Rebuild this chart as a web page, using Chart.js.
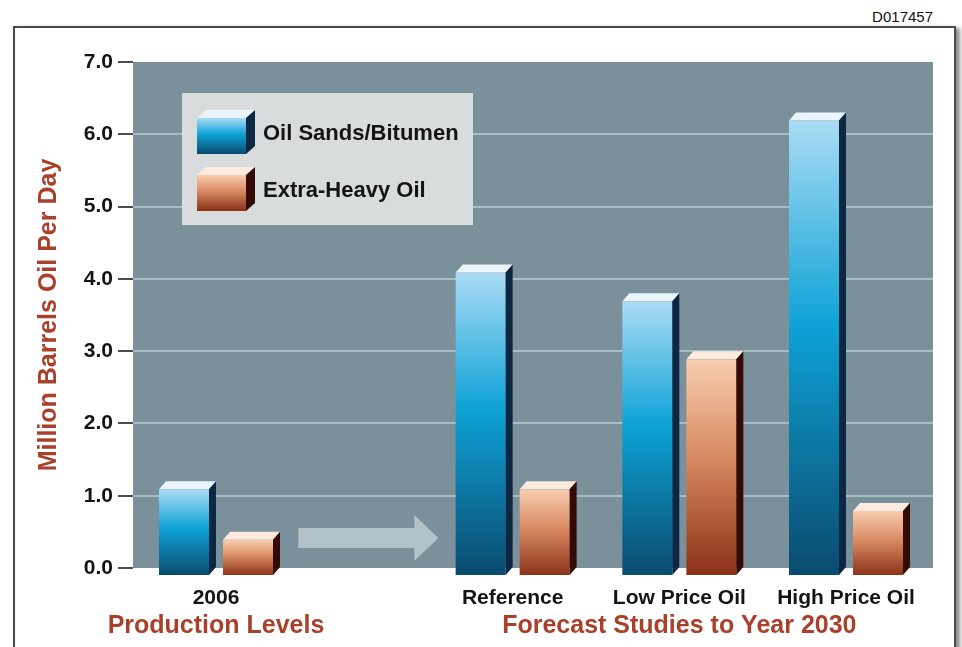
<!DOCTYPE html>
<html>
<head>
<meta charset="utf-8">
<script src="https://cdn.jsdelivr.net/npm/chart.js@4.4.1/dist/chart.umd.min.js"></script>
<style>
  html, body { margin: 0; padding: 0; background: #fff; }
  #wrap { position: relative; width: 962px; height: 647px; overflow: hidden; }
  #frame {
    position: absolute; left: 13px; top: 26px; width: 943px; height: 700px;
    box-sizing: border-box; border: 2px solid #4a4a4a;
    box-shadow: 4px 2px 4px rgba(0, 0, 0, 0.45);
  }
  #code {
    position: absolute; right: 29px; top: 8px;
    font: 15px 'Liberation Sans', Arial, sans-serif; color: #111;
  }
  canvas { position: absolute; left: 0; top: 0; }
</style>
</head>
<body>
<div id="wrap">
  <div id="frame"></div>
  <div id="code">D017457</div>
  <canvas id="chart" width="962" height="647"></canvas>
</div>
<script>
const categories = ['2006', 'Reference', 'Low Price Oil', 'High Price Oil'];
const seriesNames = ['Oil Sands/Bitumen', 'Extra-Heavy Oil'];
const oilSands = [1.2, 4.2, 3.8, 6.3];
const extraHeavy = [0.5, 1.2, 3.0, 0.9];
const yTicks = [0, 1, 2, 3, 4, 5, 6, 7];
const groupTitles = ['Production Levels', 'Forecast Studies to Year 2030'];

// where the groups sit on the x axis (2006 is set apart from the forecasts)
const slotX = [1.22, 3, 4, 5];

const FONT = "'Liberation Sans', Arial, sans-serif";
const RED = '#a9402b';
const DX = 7, DY = 8;   // depth of the 3d blocks
const GAP = 7;          // transparent side border -> gap between the pair

const palettes = [
  { front: [[0, '#aadcf5'], [0.45, '#0ea2d6'], [1, '#0a4a6e']], top: '#eaf5fb', side: '#0c2742' },
  { front: [[0, '#f8cdb0'], [0.45, '#d88a62'], [1, '#8a3017']], top: '#fdeadf', side: '#330a04' }
];

function gradient(ctx, top, bot, stops) {
  const g = ctx.createLinearGradient(0, top, 0, bot);
  stops.forEach(s => g.addColorStop(s[0], s[1]));
  return g;
}

function faceFill(c, stops) {
  const chart = c.chart;
  const ys = chart.scales.y;
  if (c.type !== 'data' || !ys || !c.raw) return stops[1][1];
  const top = ys.getPixelForValue(c.raw.y);
  const bot = ys.getPixelForValue(0);
  if (!isFinite(top) || !isFinite(bot) || top === bot) return stops[1][1];
  return gradient(chart.ctx, top, bot, stops);
}

// top and side faces of a block whose front face is given
function drawFaces(ctx, fl, fr, ft, fb, dx, dy, pal) {
  ctx.fillStyle = pal.top;
  ctx.beginPath();
  ctx.moveTo(fl, ft);
  ctx.lineTo(fr, ft);
  ctx.lineTo(fr + dx, ft - dy);
  ctx.lineTo(fl + dx, ft - dy);
  ctx.closePath();
  ctx.fill();
  ctx.fillStyle = pal.side;
  ctx.beginPath();
  ctx.moveTo(fr, ft);
  ctx.lineTo(fr + dx, ft - dy);
  ctx.lineTo(fr + dx, fb - dy);
  ctx.lineTo(fr, fb);
  ctx.closePath();
  ctx.fill();
}

const depthPlugin = {
  id: 'depth',
  beforeDraw(chart) {
    const { ctx, chartArea: a } = chart;
    ctx.save();
    ctx.fillStyle = '#7a919c';
    ctx.fillRect(a.left, a.top, a.width, a.height);
    ctx.restore();
  },
  beforeDatasetsDraw(chart) {
    chart.ctx.save();
    chart.ctx.translate(-DX, DY);
  },
  afterDatasetsDraw(chart) {
    const { ctx, chartArea: a } = chart;
    const xs = chart.scales.x;
    ctx.restore();
    ctx.save();

    // block tops and sides
    chart.data.datasets.forEach((ds, di) => {
      chart.getDatasetMeta(di).data.forEach(bar => {
        const p = bar.getProps(['x', 'y', 'base', 'width'], true);
        const l = p.x - p.width / 2 + GAP - DX;
        const r = p.x + p.width / 2 - GAP - DX;
        drawFaces(ctx, l, r, p.y + DY, p.base + DY, DX, DY, palettes[di]);
      });
    });

    // arrow between the 2006 group and the forecasts
    const cx = (xs.getPixelForValue(slotX[0]) + xs.getPixelForValue(slotX[1])) / 2 - 3;
    const cy = a.bottom - 30;
    ctx.fillStyle = 'rgba(214, 226, 231, 0.6)';
    ctx.beginPath();
    ctx.moveTo(cx - 70, cy - 10);
    ctx.lineTo(cx + 46, cy - 10);
    ctx.lineTo(cx + 46, cy - 23);
    ctx.lineTo(cx + 70, cy);
    ctx.lineTo(cx + 46, cy + 23);
    ctx.lineTo(cx + 46, cy + 10);
    ctx.lineTo(cx - 70, cy + 10);
    ctx.closePath();
    ctx.fill();

    // legend box
    const bx = a.left + 49, by = a.top + 31;
    ctx.fillStyle = '#d9dcdd';
    ctx.fillRect(bx, by, 291, 132);
    const rows = [by + 25, by + 82];
    ctx.font = 'bold 22px ' + FONT;
    ctx.textBaseline = 'middle';
    ctx.textAlign = 'left';
    chart.data.datasets.forEach((ds, di) => {
      const fl = bx + 15, fr = fl + 49, ft = rows[di], fb = ft + 36;
      ctx.fillStyle = gradient(ctx, ft, fb, palettes[di].front);
      ctx.fillRect(fl, ft, fr - fl, fb - ft);
      drawFaces(ctx, fl, fr, ft, fb, 9, 8, palettes[di]);
      ctx.fillStyle = '#141414';
      ctx.fillText(ds.label, bx + 81, ft + 16);
    });

    // group titles under the axis labels
    ctx.font = 'bold 25px ' + FONT;
    ctx.fillStyle = RED;
    ctx.textAlign = 'center';
    ctx.fillText(groupTitles[0], xs.getPixelForValue(slotX[0]) - DX, a.bottom + 58);
    ctx.fillText(groupTitles[1], xs.getPixelForValue(slotX[2]) - DX, a.bottom + 58);
    ctx.restore();
  }
};

const barCommon = {
  barThickness: 64,
  borderWidth: { left: GAP, right: GAP, top: 0, bottom: 0 },
  borderColor: 'rgba(0,0,0,0)',
  borderSkipped: false,
  inflateAmount: 0,
  clip: false
};

new Chart(document.getElementById('chart'), {
  type: 'bar',
  data: {
    datasets: [
      Object.assign({
        label: seriesNames[0],
        data: oilSands.map((v, i) => ({ x: slotX[i], y: v })),
        backgroundColor: c => faceFill(c, palettes[0].front)
      }, barCommon),
      Object.assign({
        label: seriesNames[1],
        data: extraHeavy.map((v, i) => ({ x: slotX[i], y: v })),
        backgroundColor: c => faceFill(c, palettes[1].front)
      }, barCommon)
    ]
  },
  options: {
    responsive: false,
    animation: false,
    layout: { padding: { top: 62, right: 29, left: 0, bottom: 0 } },
    plugins: {
      legend: { display: false },
      tooltip: { enabled: false }
    },
    scales: {
      x: {
        type: 'linear',
        min: 0.68,
        max: 5.48,
        offset: false,
        grid: { display: false, drawTicks: false },
        border: { display: false },
        afterBuildTicks: s => { s.ticks = slotX.map(v => ({ value: v })); },
        afterFit: s => { s.height = 79; },
        ticks: {
          autoSkip: false,
          maxRotation: 0,
          padding: 18,
          labelOffset: -DX,
          color: '#141414',
          font: { family: FONT, size: 21, weight: 'bold' },
          callback: v => categories[slotX.indexOf(v)]
        }
      },
      y: {
        min: yTicks[0],
        max: yTicks[yTicks.length - 1],
        afterBuildTicks: s => { s.ticks = yTicks.map(v => ({ value: v })); },
        afterFit: s => { s.width = 133; },
        border: { display: false },
        grid: {
          lineWidth: 2,
          color: c => (c.tick && (c.tick.value === yTicks[0] || c.tick.value === yTicks[yTicks.length - 1])) ? 'rgba(0,0,0,0)' : '#a8bcc6',
          tickColor: '#4d4d4d',
          tickWidth: 2,
          tickLength: 15
        },
        ticks: {
          padding: 5,
          color: '#141414',
          font: { family: FONT, size: 21, weight: 'bold' },
          callback: v => v.toFixed(1)
        },
        title: {
          display: true,
          text: 'Million Barrels Oil Per Day',
          color: RED,
          font: { family: FONT, size: 25, weight: 'bold' },
          padding: { top: 34, bottom: 0 }
        }
      }
    }
  },
  plugins: [depthPlugin]
});
</script>
</body>
</html>
